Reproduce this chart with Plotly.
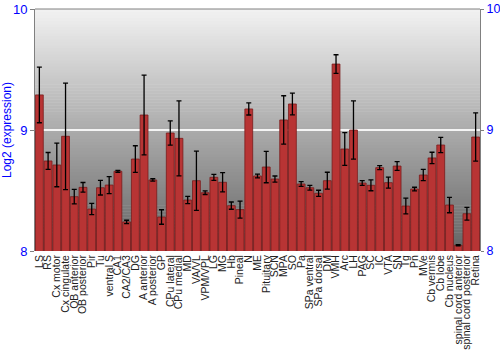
import plotly.graph_objects as go

regions = ["LS", "RS", "Cx motor", "Cx cingulate", "OB anterior", "OB posterior", "Pir", "Tu",
           "ventral S", "CA1", "CA2/CA3", "DG", "A anterior", "A posterior", "GP", "CPu lateral",
           "CPu medial", "MD", "VA/VL", "VPM/VPL", "LG", "MG", "Hb", "Pineal", "N", "ME",
           "Pituitary", "SCN", "MPA", "SO", "Pa", "SPa ventral", "SPa dorsal", "DM", "VMH", "Arc",
           "LH", "PAG", "SC", "IC", "VTA", "SN", "Tg", "Pn", "MVe", "Cb vermis", "Cb lobe",
           "Cb nucleus", "spinal cord anterior", "spinal cord posterior", "Retina"]

expression = [9.29, 8.744, 8.711, 8.948, 8.449, 8.526, 8.347, 8.523,
              8.545, 8.659, 8.240, 8.760, 9.124, 8.587, 8.281, 8.975,
              8.931, 8.421, 8.581, 8.482, 8.609, 8.568, 8.375, 8.342, 9.174, 8.620,
              8.694, 8.595, 9.083, 9.215, 8.554, 8.523, 8.477, 8.581, 9.545, 8.843,
              9.000, 8.562, 8.543, 8.689, 8.565, 8.702, 8.372, 8.512, 8.628, 8.769, 8.876,
              8.380, 8.047, 8.308, 8.942]

error = [0.23, 0.07, 0.18, 0.44, 0.06, 0.04, 0.047, 0.06,
         0.07, 0.008, 0.014, 0.11, 0.33, 0.01, 0.06, 0.10,
         0.31, 0.03, 0.245, 0.015, 0.025, 0.08, 0.03, 0.07, 0.05, 0.015,
         0.13, 0.025, 0.20, 0.09, 0.02, 0.02, 0.025, 0.07, 0.077, 0.135,
         0.24, 0.02, 0.045, 0.017, 0.045, 0.036, 0.065, 0.015, 0.047, 0.047, 0.063,
         0.064, 0.005, 0.053, 0.20]

y_ticks = [8, 9, 10]
grid_ticks = [9]

fig = go.Figure()
fig.add_trace(go.Bar(
    x=regions, y=expression,
    marker=dict(color="#b83434", line=dict(color="#7a1c1c", width=0.8)),
    error_y=dict(type="data", array=error, color="#000000", thickness=1.3, width=2.5),
    showlegend=False,
))
# invisible traces for right axis and grid axis
fig.add_trace(go.Scatter(x=[regions[0]], y=[y_ticks[1]], yaxis="y2", mode="markers",
                         marker=dict(opacity=0), showlegend=False, hoverinfo="skip"))
fig.add_trace(go.Scatter(x=[regions[0]], y=[y_ticks[1]], yaxis="y3", mode="markers",
                         marker=dict(opacity=0), showlegend=False, hoverinfo="skip"))

# gradient background
n = 80
top_c, bot_c = 242, 100
shapes = []
for i in range(n):
    f0 = i / n
    f1 = (i + 1) / n
    fm = (f0 + f1) / 2
    v = int(round(bot_c + (top_c - bot_c) * fm))
    shapes.append(dict(type="rect", xref="x domain", yref="y domain",
                       x0=0, x1=1, y0=f0, y1=min(1, f1 + 0.002), layer="below",
                       line=dict(width=0), fillcolor=f"rgb({v},{v},{v})"))
shapes.append(dict(type="line", xref="x domain", yref="y domain", x0=0, x1=1, y0=1, y1=1,
                   layer="above", line=dict(color="#808080", width=1)))
fig.update_layout(shapes=shapes)

axis_font = dict(family="Liberation Sans, Arial, sans-serif", size=13, color="#0000ff")
fig.update_layout(
    width=500, height=350,
    margin=dict(l=35, r=20, t=9, b=99, autoexpand=False),
    paper_bgcolor="white", plot_bgcolor="white",
    bargap=0.1,
    font=dict(family="Liberation Sans, Arial, sans-serif"),
    xaxis=dict(tickangle=-90, tickfont=dict(size=10.5, color="#222222"),
               tickmode="array", tickvals=regions, ticktext=regions, automargin=False,
               showgrid=False, ticks="", showline=False, ticklabelstandoff=1,
               range=[-0.5, len(regions) - 0.5]),
    yaxis=dict(range=[8, 10], tickvals=y_ticks, showgrid=False, zeroline=False, automargin=False,
               tickfont=axis_font, ticks="outside", ticklen=4, tickcolor="#808080",
               showline=True, linecolor="#808080", linewidth=1,
               title=dict(text="Log2 (expression)", font=dict(size=12, color="#0000ff"), standoff=10)),
    yaxis2=dict(range=[8, 10], tickvals=y_ticks, overlaying="y", side="right", automargin=False,
                showgrid=False, zeroline=False, tickfont=dict(axis_font, size=12.5),
                ticks="outside", ticklen=3, tickcolor="#808080",
                showline=True, linecolor="#808080", linewidth=1),
    yaxis3=dict(range=[8, 10], tickvals=grid_ticks, overlaying="y", showgrid=True, automargin=False,
                gridcolor="#f4f4f4", gridwidth=1.5, zeroline=False,
                showticklabels=False, ticks="", showline=False),
)

fig.write_html("out.html")
